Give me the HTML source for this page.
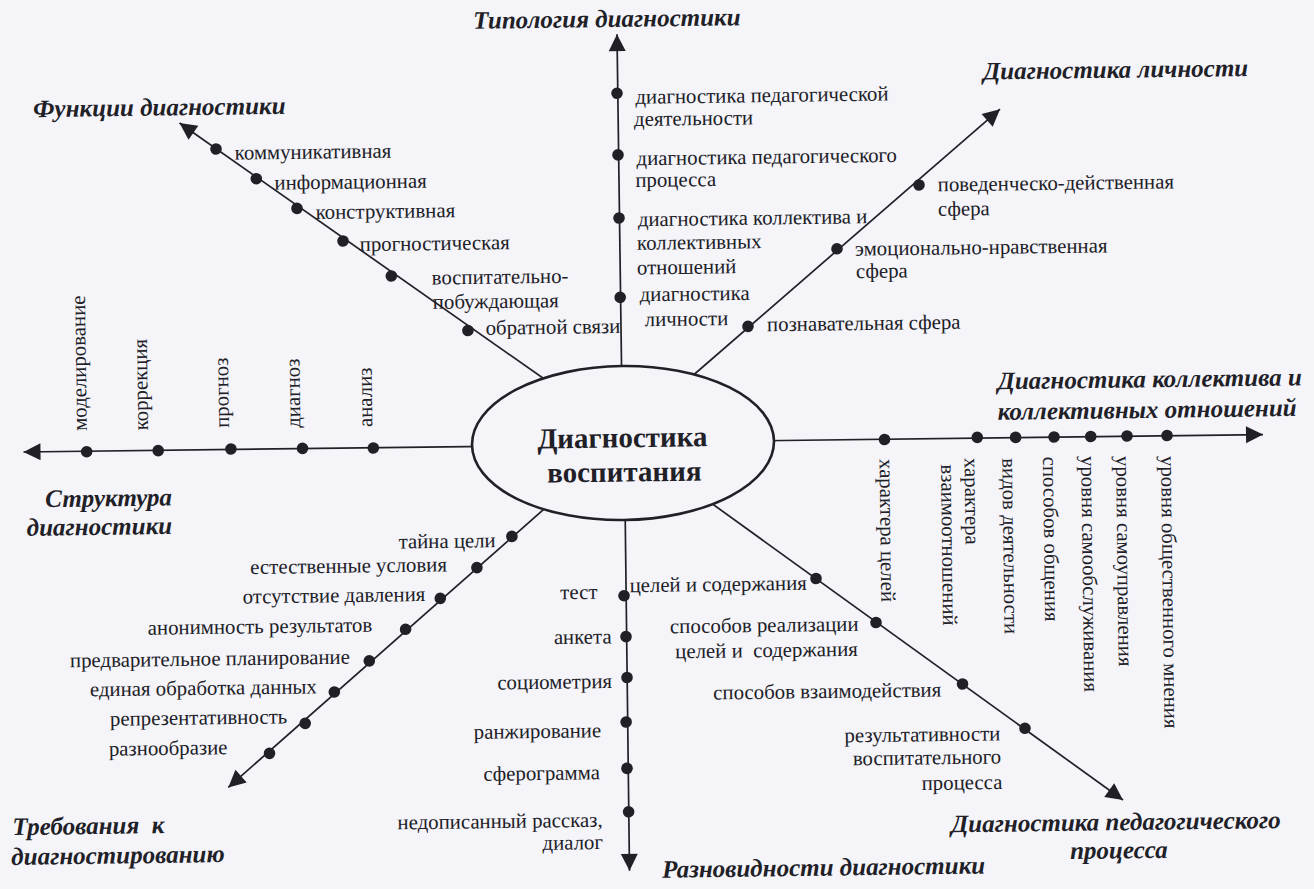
<!DOCTYPE html>
<html><head><meta charset="utf-8"><style>
html,body{margin:0;padding:0;background:#f4f4f9;overflow:hidden;}
svg{display:block}
.r{font-family:"Liberation Serif",serif;font-size:20.8px;fill:#202026;}
.t{font-family:"Liberation Serif",serif;font-size:25px;font-weight:bold;font-style:italic;fill:#202026;}
.c{font-family:"Liberation Serif",serif;font-size:29px;font-weight:bold;fill:#202026;}
</style></head><body>
<svg width="1314" height="889" viewBox="0 0 1314 889">
<rect width="1314" height="889" fill="#f4f4f9"/>
<g transform="rotate(-0.75 623.0 443.0)">
<line x1="622.56" y1="399.99" x2="622.35" y2="34.16" stroke="#202026" stroke-width="1.7"/>
<polygon points="622.35,34.16 630.86,51.15 613.86,51.16" fill="#202026"/>
<line x1="560.70" y1="389.18" x2="183.73" y2="117.22" stroke="#202026" stroke-width="1.7"/>
<polygon points="183.73,117.22 202.49,120.27 192.54,134.06" fill="#202026"/>
<line x1="690.85" y1="378.88" x2="1004.34" y2="114.16" stroke="#202026" stroke-width="1.7"/>
<polygon points="1004.34,114.16 996.83,131.63 985.86,118.64" fill="#202026"/>
<line x1="700.01" y1="442.51" x2="1263.06" y2="442.98" stroke="#202026" stroke-width="1.7"/>
<polygon points="1263.06,442.98 1246.05,451.46 1246.06,434.46" fill="#202026"/>
<line x1="559.97" y1="444.68" x2="23.43" y2="444.15" stroke="#202026" stroke-width="1.7"/>
<polygon points="23.43,444.15 40.44,435.67 40.43,452.67" fill="#202026"/>
<line x1="559.32" y1="494.17" x2="223.83" y2="782.20" stroke="#202026" stroke-width="1.7"/>
<polygon points="223.83,782.20 231.19,764.68 242.26,777.58" fill="#202026"/>
<line x1="624.25" y1="500.02" x2="623.90" y2="870.85" stroke="#202026" stroke-width="1.7"/>
<polygon points="623.90,870.85 615.42,853.84 632.42,853.86" fill="#202026"/>
<line x1="699.31" y1="496.00" x2="1118.28" y2="806.51" stroke="#202026" stroke-width="1.7"/>
<polygon points="1118.28,806.51 1099.57,803.22 1109.69,789.56" fill="#202026"/>
<circle cx="219.88" cy="143.70" r="5.8" fill="#202026"/>
<circle cx="259.79" cy="173.92" r="5.8" fill="#202026"/>
<circle cx="300.10" cy="204.15" r="5.8" fill="#202026"/>
<circle cx="345.67" cy="237.35" r="5.8" fill="#202026"/>
<circle cx="393.51" cy="272.98" r="5.8" fill="#202026"/>
<circle cx="469.39" cy="328.48" r="5.8" fill="#202026"/>
<circle cx="621.58" cy="93.25" r="5.8" fill="#202026"/>
<circle cx="621.77" cy="154.86" r="5.8" fill="#202026"/>
<circle cx="621.95" cy="217.97" r="5.8" fill="#202026"/>
<circle cx="622.11" cy="297.38" r="5.8" fill="#202026"/>
<circle cx="922.35" cy="188.90" r="5.8" fill="#202026"/>
<circle cx="839.52" cy="251.62" r="5.8" fill="#202026"/>
<circle cx="749.52" cy="328.05" r="5.8" fill="#202026"/>
<circle cx="884.52" cy="442.92" r="5.8" fill="#202026"/>
<circle cx="977.34" cy="442.04" r="5.8" fill="#202026"/>
<circle cx="1015.64" cy="442.54" r="5.8" fill="#202026"/>
<circle cx="1054.04" cy="442.64" r="5.8" fill="#202026"/>
<circle cx="1090.75" cy="442.62" r="5.8" fill="#202026"/>
<circle cx="1127.05" cy="442.60" r="5.8" fill="#202026"/>
<circle cx="1167.05" cy="442.62" r="5.8" fill="#202026"/>
<circle cx="86.53" cy="444.68" r="5.8" fill="#202026"/>
<circle cx="158.14" cy="444.52" r="5.8" fill="#202026"/>
<circle cx="230.86" cy="443.87" r="5.8" fill="#202026"/>
<circle cx="302.46" cy="444.20" r="5.8" fill="#202026"/>
<circle cx="373.26" cy="444.73" r="5.8" fill="#202026"/>
<circle cx="510.69" cy="534.94" r="5.8" fill="#202026"/>
<circle cx="475.28" cy="565.68" r="5.8" fill="#202026"/>
<circle cx="438.28" cy="596.00" r="5.8" fill="#202026"/>
<circle cx="403.18" cy="626.44" r="5.8" fill="#202026"/>
<circle cx="366.47" cy="657.56" r="5.8" fill="#202026"/>
<circle cx="331.07" cy="688.20" r="5.8" fill="#202026"/>
<circle cx="301.56" cy="719.22" r="5.8" fill="#202026"/>
<circle cx="265.47" cy="748.75" r="5.8" fill="#202026"/>
<circle cx="622.00" cy="595.70" r="5.8" fill="#202026"/>
<circle cx="623.47" cy="636.62" r="5.8" fill="#202026"/>
<circle cx="623.93" cy="677.53" r="5.8" fill="#202026"/>
<circle cx="622.45" cy="722.02" r="5.8" fill="#202026"/>
<circle cx="622.74" cy="768.42" r="5.8" fill="#202026"/>
<circle cx="623.77" cy="811.84" r="5.8" fill="#202026"/>
<circle cx="814.21" cy="581.01" r="5.8" fill="#202026"/>
<circle cx="873.63" cy="625.80" r="5.8" fill="#202026"/>
<circle cx="959.32" cy="688.42" r="5.8" fill="#202026"/>
<circle cx="1021.23" cy="733.54" r="5.8" fill="#202026"/>
<ellipse cx="623.00" cy="443.00" rx="151" ry="77" fill="#f4f4f9" stroke="#202026" stroke-width="2.6"/>
<text x="163.83" y="109.46" text-anchor="middle" class="t">Функции диагностики</text>
<text x="612.45" y="26.83" text-anchor="middle" class="t">Типология диагностики</text>
<text x="1120.49" y="84.28" text-anchor="middle" class="t">Диагностика личности</text>
<text x="1150.53" y="394.20" text-anchor="middle" class="t">Диагностика коллектива и</text>
<text x="1147.53" y="424.76" text-anchor="middle" class="t">коллективных отношений</text>
<text x="107.92" y="499.56" text-anchor="middle" class="t">Структура</text>
<text x="98.39" y="528.04" text-anchor="middle" class="t">диагностики</text>
<text x="83.48" y="827.07" text-anchor="middle" class="t">Требования&#160; к</text>
<text x="112.59" y="856.85" text-anchor="middle" class="t">диагностированию</text>
<text x="818.12" y="878.19" text-anchor="middle" class="t">Разновидности диагностики</text>
<text x="1110.89" y="836.62" text-anchor="middle" class="t">Диагностика педагогического</text>
<text x="1113.52" y="864.86" text-anchor="middle" class="t">процесса</text>
<text x="622.44" y="447.29" text-anchor="middle" class="c">Диагностика</text>
<text x="624.00" y="481.52" text-anchor="middle" class="c">воспитания</text>
<text x="316.85" y="154.57" text-anchor="middle" class="r">коммуникативная</text>
<text x="354.00" y="185.06" text-anchor="middle" class="r">информационная</text>
<text x="388.47" y="214.91" text-anchor="middle" class="r">конструктивная</text>
<text x="437.29" y="247.65" text-anchor="middle" class="r">прогностическая</text>
<text x="502.20" y="282.00" text-anchor="middle" class="r">воспитательно-</text>
<text x="497.63" y="306.35" text-anchor="middle" class="r">побуждающая</text>
<text x="554.49" y="332.89" text-anchor="middle" class="r">обратной связи</text>
<text x="766.50" y="103.95" text-anchor="middle" class="r">диагностика педагогической</text>
<text x="697.80" y="126.15" text-anchor="middle" class="r">деятельности</text>
<text x="770.45" y="165.41" text-anchor="middle" class="r">диагностика педагогического</text>
<text x="679.15" y="187.21" text-anchor="middle" class="r">процесса</text>
<text x="755.50" y="226.42" text-anchor="middle" class="r">диагностика коллектива и</text>
<text x="701.88" y="250.02" text-anchor="middle" class="r">коллективных</text>
<text x="689.01" y="274.65" text-anchor="middle" class="r">отношений</text>
<text x="696.61" y="301.45" text-anchor="middle" class="r">диагностика</text>
<text x="688.13" y="326.44" text-anchor="middle" class="r">личности</text>
<text x="1059.18" y="195.49" text-anchor="middle" class="r">поведенческо-действенная</text>
<text x="940.95" y="219.94" text-anchor="start" class="r">сфера</text>
<text x="983.69" y="258.71" text-anchor="middle" class="r">эмоционально-нравственная</text>
<text x="858.14" y="281.06" text-anchor="start" class="r">сфера</text>
<text x="865.31" y="333.16" text-anchor="middle" class="r">познавательная сфера</text>
<text x="445.84" y="545.49" text-anchor="middle" class="r">тайна цели</text>
<text x="347.03" y="569.00" text-anchor="middle" class="r">естественные условия</text>
<text x="331.99" y="598.40" text-anchor="middle" class="r">отсутствие давления</text>
<text x="257.59" y="628.43" text-anchor="middle" class="r">анонимность результатов</text>
<text x="207.12" y="660.07" text-anchor="middle" class="r">предварительное планирование</text>
<text x="200.24" y="689.29" text-anchor="middle" class="r">единая обработка данных</text>
<text x="195.00" y="718.92" text-anchor="middle" class="r">репрезентативность</text>
<text x="164.21" y="748.92" text-anchor="middle" class="r">разнообразие</text>
<text x="576.86" y="598.41" text-anchor="middle" class="r">тест</text>
<text x="580.13" y="643.16" text-anchor="middle" class="r">анкета</text>
<text x="551.54" y="687.79" text-anchor="middle" class="r">социометрия</text>
<text x="533.65" y="736.86" text-anchor="middle" class="r">ранжирование</text>
<text x="537.25" y="778.91" text-anchor="middle" class="r">сферограмма</text>
<text x="495.12" y="826.36" text-anchor="middle" class="r">недописанный рассказ,</text>
<text x="567.48" y="848.71" text-anchor="middle" class="r">диалог</text>
<text x="716.35" y="592.23" text-anchor="middle" class="r">целей и содержания</text>
<text x="761.86" y="633.83" text-anchor="middle" class="r">способов реализации</text>
<text x="763.79" y="658.86" text-anchor="middle" class="r">целей и&#160; содержания</text>
<text x="823.94" y="700.65" text-anchor="middle" class="r">способов взаимодействия</text>
<text x="918.57" y="745.19" text-anchor="middle" class="r">результативности</text>
<text x="922.77" y="768.35" text-anchor="middle" class="r">воспитательного</text>
<text x="957.54" y="793.81" text-anchor="middle" class="r">процесса</text>
<text x="0" y="0" class="r" transform="translate(879.27,462.36) rotate(90)">характера целей</text>
<text x="0" y="0" class="r" transform="translate(964.27,462.47) rotate(90)">характера</text>
<text x="0" y="0" class="r" transform="translate(940.69,468.56) rotate(90)">взаимоотношений</text>
<text x="0" y="0" class="r" transform="translate(1002.07,463.16) rotate(90)">видов деятельности</text>
<text x="0" y="0" class="r" transform="translate(1042.78,462.20) rotate(90)">способов общения</text>
<text x="0" y="0" class="r" transform="translate(1080.99,462.00) rotate(90)">уровня самообслуживания</text>
<text x="0" y="0" class="r" transform="translate(1115.79,462.45) rotate(90)">уровня самоуправления</text>
<text x="0" y="0" class="r" transform="translate(1160.78,463.04) rotate(90)">уровня общественного мнения</text>
<text x="0" y="0" class="r" transform="translate(86.91,423.78) rotate(-90)">моделирование</text>
<text x="0" y="0" class="r" transform="translate(148.21,424.08) rotate(-90)">коррекция</text>
<text x="0" y="0" class="r" transform="translate(229.13,422.64) rotate(-90)">прогноз</text>
<text x="0" y="0" class="r" transform="translate(300.53,423.58) rotate(-90)">диагноз</text>
<text x="0" y="0" class="r" transform="translate(372.53,423.72) rotate(-90)">анализ</text>
</g>
</svg>
</body></html>
